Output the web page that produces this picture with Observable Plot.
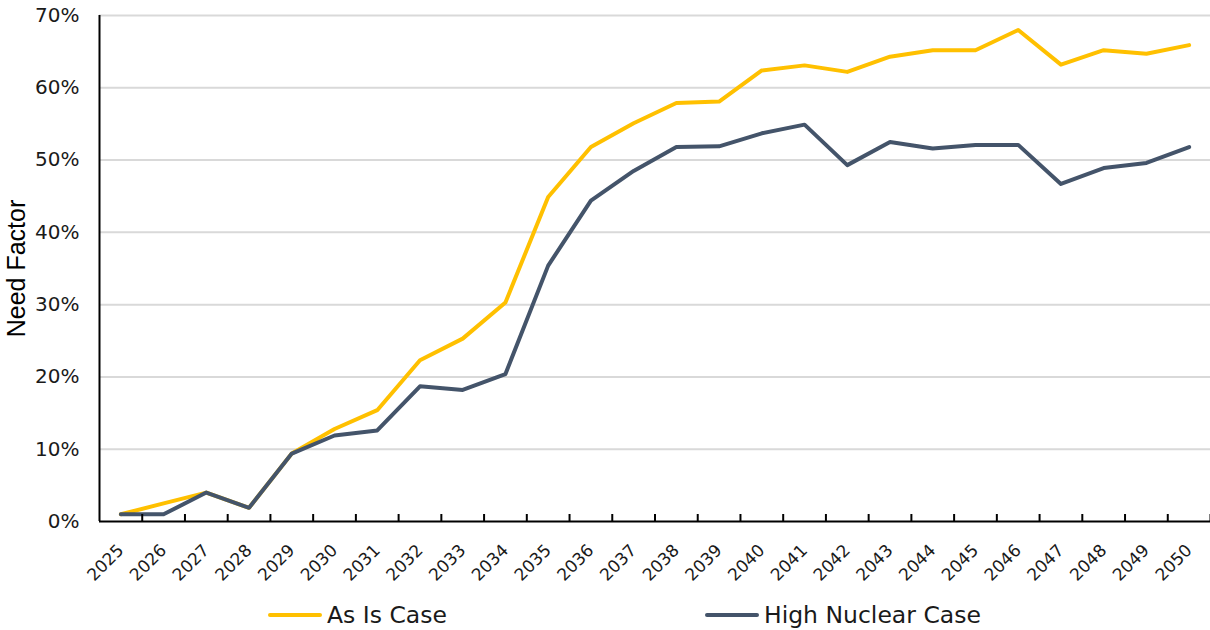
<!DOCTYPE html>
<html>
<head>
<meta charset="utf-8">
<script src="https://cdn.jsdelivr.net/npm/d3@7"></script>
<script src="https://cdn.jsdelivr.net/npm/@observablehq/plot@0.6"></script>
<style>
  html, body { margin: 0; padding: 0; background: #fff; }
  #wrap { position: relative; width: 1210px; height: 630px; font-family: "DejaVu Sans", Verdana, sans-serif; color: #1a1a1a; }
  #legend { position: absolute; left: 0; top: 597px; width: 1210px; height: 33px; }
  .item { position: absolute; top: 1px; height: 33px; display: flex; align-items: center; font-size: 23.5px; }
  .sw { width: 54px; height: 4px; margin-right: 5px; border-radius: 2px; }
</style>
</head>
<body>
<div id="wrap">
  <div id="chart"></div>
  <div id="legend"></div>
</div>
<script>
const years = [2025, 2026, 2027, 2028, 2029, 2030, 2031, 2032, 2033, 2034, 2035, 2036, 2037,
  2038, 2039, 2040, 2041, 2042, 2043, 2044, 2045, 2046, 2047, 2048, 2049, 2050];
const asIsCase = [0.010, 0.025, 0.040, 0.019, 0.094, 0.128, 0.154, 0.223, 0.253, 0.303, 0.449,
  0.518, 0.551, 0.579, 0.581, 0.624, 0.631, 0.622, 0.643, 0.652, 0.652, 0.680, 0.632, 0.652, 0.647, 0.659];
const highNuclearCase = [0.010, 0.010, 0.040, 0.019, 0.094, 0.119, 0.126, 0.187, 0.182, 0.204, 0.354,
  0.444, 0.485, 0.518, 0.519, 0.537, 0.549, 0.493, 0.525, 0.516, 0.521, 0.521, 0.467, 0.489, 0.496, 0.518];
const seriesNames = ["As Is Case", "High Nuclear Case"];
const seriesColors = ["#FFC000", "#44546A"];
const yTicks = [0, 0.1, 0.2, 0.3, 0.4, 0.5, 0.6, 0.7];
const yTitle = "Need Factor";

const data = [
  ...years.map((yr, i) => ({year: yr, value: asIsCase[i], series: seriesNames[0]})),
  ...years.map((yr, i) => ({year: yr, value: highNuclearCase[i], series: seriesNames[1]}))
];
const boundaries = [years[0] - 0.5, ...years.map(y => y + 0.5)];

const chart = Plot.plot({
  width: 1210,
  height: 597,
  marginLeft: 99,
  marginRight: 0,
  marginTop: 15,
  marginBottom: 76,
  style: {fontFamily: "DejaVu Sans, Verdana, sans-serif", fontSize: "18px", color: "#1a1a1a", background: "#fff"},
  x: {domain: [years[0] - 0.5, years[years.length - 1] + 0.5]},
  y: {domain: [0, 0.7]},
  color: {domain: seriesNames, range: seriesColors},
  marks: [
    Plot.gridY(yTicks.slice(1), {stroke: "#d9d9d9", strokeOpacity: 1, strokeWidth: 2}),
    Plot.line(data, {x: "year", y: "value", z: "series", stroke: "series", strokeWidth: 4, strokeLinejoin: "round", strokeLinecap: "round"}),
    Plot.ruleX(boundaries.slice(1), {x: d => d, y1: 0, y2: 0, insetTop: -7, stroke: "#000", strokeWidth: 2}),
    Plot.ruleY([0], {stroke: "#000", strokeWidth: 2}),
    Plot.ruleX([boundaries[0]], {stroke: "#000", strokeWidth: 2}),
    Plot.axisY(yTicks, {tickSize: 0, tickPadding: 20, tickFormat: d3.format(".0%"), label: null, fontSize: 20}),
    Plot.axisY({ticks: [], label: yTitle, labelAnchor: "center", labelArrow: "none", labelOffset: 92, fontSize: 25, fontFamily: "Liberation Sans, Arial, sans-serif", fill: "#000"}),
    Plot.axisX(years, {tickSize: 0, tickRotate: -45, tickPadding: 26, tickFormat: d => String(d), label: null, fontSize: 17})
  ]
});
document.getElementById("chart").appendChild(chart);

const legend = document.getElementById("legend");
const legendX = [268, 705];
seriesNames.forEach((name, i) => {
  const item = document.createElement("div");
  item.className = "item";
  item.style.left = legendX[i] + "px";
  const sw = document.createElement("div");
  sw.className = "sw";
  sw.style.background = seriesColors[i];
  const t = document.createElement("span");
  t.textContent = name;
  item.appendChild(sw);
  item.appendChild(t);
  legend.appendChild(item);
});
</script>
</body>
</html>
